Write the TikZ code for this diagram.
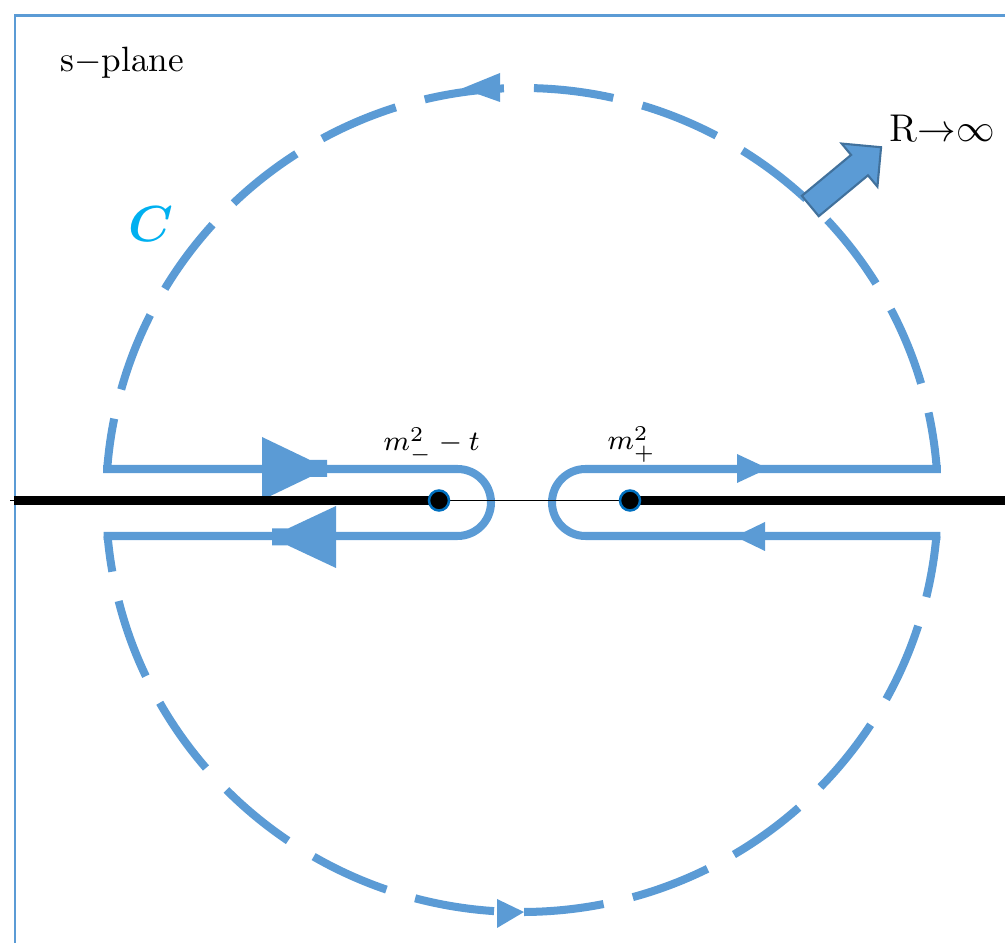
\documentclass[tikz,border=0pt]{standalone}
\usepackage{bm}
\definecolor{cblue}{HTML}{5B9BD5}
\definecolor{cdark}{HTML}{41719C}
\definecolor{ccyan}{HTML}{00B0F0}
\definecolor{pblue}{HTML}{0070C0}
\tikzset{
  contour/.style={draw=cblue, line width=2.28pt},
  dashedarc/.style={contour, dash pattern=on 22.76pt off 8.54pt},
  solidpath/.style={contour, line cap=rect},
  tipshape/.style={fill=cblue},
  pole/.style={fill=black, draw=pblue, line width=0.7pt},
  lbl/.style={anchor=base west, inner sep=0pt},
}
\begin{document}
\begin{tikzpicture}[x=0.01cm, y=-0.01cm]
\useasboundingbox (0,0) rectangle (1005,943);
% frame
\draw[cblue, line width=0.85pt] (15,943) -- (15,15.5) -- (1005,15.5);
% big circle arcs
\draw[dashedarc, dash phase=6.54pt] (936.8,469) arc[start angle=-4.315, end angle=-175.685, x radius=416, y radius=412];
\draw[dashedarc, dash phase=12.52pt] (107.6,536) arc[start angle=174.987, end angle=5.013, x radius=416, y radius=412];
% keyholes
\draw[solidpath] (107.2,469) -- (457.5,469) arc[start angle=-90, end angle=90, radius=33.5] -- (107.6,536);
\draw[solidpath] (936.8,469) -- (585.5,469) arc[start angle=-90, end angle=-270, radius=33.5] -- (936.4,536);
% arrowheads
\fill[tipshape] (262,437) -- (310,460) -- (327,460) -- (327,477) -- (310,477) -- (262,500) -- cycle;
\fill[tipshape] (336,506) -- (288,528.5) -- (272,528.5) -- (272,545.5) -- (288,545.5) -- (336,568) -- cycle;
\fill[tipshape] (737,454) -- (768,468.5) -- (737,483) -- cycle;
\fill[tipshape] (765,522) -- (735,536.5) -- (765,551) -- cycle;
\fill[tipshape] (500,73) -- (462,88.5) -- (500,102) -- cycle;
\fill[tipshape] (497,899) -- (524,912) -- (497,928) -- cycle;
% real axis
\draw[black, line width=0.43pt] (10,500.5) -- (1005,500.5);
\draw[black, line width=2.56pt] (14,500.5) -- (439,500.5);
\draw[black, line width=2.56pt] (630,500.5) -- (1005,500.5);
\node[pole, circle, minimum size=0.2cm, inner sep=0pt] (pminus) at (439,500.5) {};
\node[pole, circle, minimum size=0.2cm, inner sep=0pt] (pplus) at (630,500.5) {};
% block arrow
\begin{scope}[shift={(810.3,206)}, rotate=39.7]
\filldraw[fill=cblue, draw=cdark, line width=0.6pt, line join=miter]
  (0,-13.25) -- (64,-13.25) -- (64,-28) -- (92,0) -- (64,28) -- (64,13.25) -- (0,13.25) -- cycle;
\end{scope}
% labels
\node[lbl, font=\fontsize{10}{12}\selectfont] (splane) at (60,71.5) {s$-$plane};
\node[lbl, font=\fontsize{11}{13}\selectfont] (rinf) at (889,142) {R$\mathord{\rightarrow}\infty$};
\node[inner sep=0pt, text=ccyan, font=\fontsize{15}{17}\selectfont] (cname) at (151,224) {$\bm{C}$};
\node[lbl, font=\fontsize{8.5}{10}\selectfont] (mminus) at (383,451) {$m_-^2-t$};
\node[lbl, font=\fontsize{8.5}{10}\selectfont] (mplus) at (607,450) {$m_+^2$};
\end{tikzpicture}
\end{document}
